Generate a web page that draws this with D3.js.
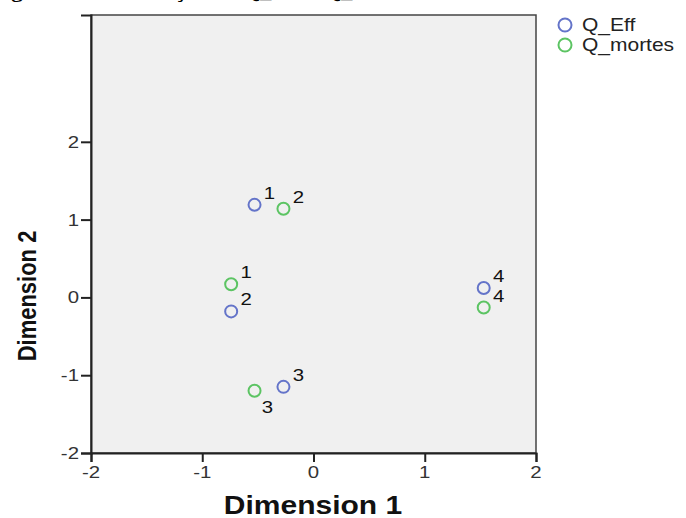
<!DOCTYPE html>
<html>
<head>
<meta charset="utf-8">
<script src="https://cdn.jsdelivr.net/npm/d3@7"></script>
<style>
  body { margin: 0; background: #fff; }
  svg { display: block; font-family: Arial, "Liberation Sans", sans-serif; }
</style>
</head>
<body>
<div id="chart"></div>
<script>
// category points
var cats = ["1", "2", "3", "4"]
var effX = [-0.53, -0.74, -0.27, 1.53]
var effY = [1.19, -0.18, -1.15, 0.12]
var mortesX = [-0.74, -0.27, -0.53, 1.53]
var mortesY = [0.17, 1.14, -1.20, -0.13]
// where the label sits beside each point
var effLab = ["ne", "ne", "ne", "ne"]
var mortesLab = ["ne", "ne", "se", "ne"]

var seriesNames = ["Q_Eff", "Q_mortes"]
var seriesCols = ["#6474c9", "#5cc463"]
var xTicks = [-2, -1, 0, 1, 2]
var yTicks = [-2, -1, 0, 1, 2]

var W = 686, H = 518
var sx = 1.2 // text in the picture is stretched sideways

var svg = d3.select('#chart').append('svg')
    .attr('width', W)
    .attr('height', H)

var x = d3.scaleLinear().domain([-2, 2]).range([91, 536])
var y = d3.scaleLinear().domain([-2, 3.63]).range([453, 15])

var fmt = function(d) { return d3.format('d')(d).replace('\u2212', '-') }

// stretched text helper
function stext(px, py, str, size, anchor, weight, rot, col, fam) {
  var g = svg.append('g')
    .attr('transform', 'translate(' + px + ',' + py + ') scale(' + sx + ',1)' + (rot ? ' rotate(' + rot + ')' : ''))
  g.append('text')
    .attr('text-anchor', anchor)
    .attr('font-size', size)
    .attr('font-weight', weight || 'normal')
    .attr('font-family', fam || null)
    .attr('fill', col || '#222')
    .text(str)
  return g
}

// caption cut off at the top (only the descenders show)
stext(-9, -2, 'Figura 1 - Localização de Q_Eff e Q_mortes', 19, 'start', 'bold', 0, '#000', '"Liberation Serif", serif')

// plot frame
svg.append('rect')
  .attr('x', x(-2))
  .attr('y', y(3.63))
  .attr('width', x(2) - x(-2))
  .attr('height', y(-2) - y(3.63))
  .attr('fill', '#f0f0f0')
  .attr('stroke', '#444')
  .attr('stroke-width', 1.5)

// axes
var xAxis = svg.append('g')
  .attr('transform', 'translate(0,' + y(-2) + ')')
  .call(d3.axisBottom(x).tickValues(xTicks).tickSize(9))
var yAxis = svg.append('g')
  .attr('transform', 'translate(' + x(-2) + ',0)')
  .call(d3.axisLeft(y).tickValues(yTicks).tickSize(10))

;[xAxis, yAxis].forEach(function(a) {
  a.select('.domain').attr('stroke', '#222').attr('stroke-width', 2)
  a.selectAll('.tick line').attr('stroke', '#222').attr('stroke-width', 2)
  a.selectAll('.tick text').remove()
})

// tick labels (stretched like the rest of the picture)
xTicks.forEach(function(t) {
  stext(x(t), 478, fmt(t), 17, 'middle', 'normal', 0, '#333')
})
yTicks.forEach(function(t) {
  stext(79, y(t) + 6, fmt(t), 17, 'end', 'normal', 0, '#333')
})

// axis titles
stext(313, 514, 'Dimension 1', 25, 'middle', 'bold', 0, '#111')
stext(36, 296, 'Dimension 2', 22, 'middle', 'bold', -90, '#111')

// points
function drawSeries(xs, ys, lab, col) {
  for (i in xs) {
    svg.append('circle')
      .attr('cx', x(xs[i]))
      .attr('cy', y(ys[i]))
      .attr('r', 6)
      .attr('fill', 'none')
      .attr('stroke', col)
      .attr('stroke-width', 2)
    var lx = x(xs[i]) + (lab[i] == 'se' ? 13 : 15)
    var ly = y(ys[i]) + (lab[i] == 'se' ? 16 : -12)
    stext(lx, ly + 6, cats[i], 17, 'middle', 'normal', 0, '#111')
  }
}
drawSeries(effX, effY, effLab, seriesCols[0])
drawSeries(mortesX, mortesY, mortesLab, seriesCols[1])

// legend
var ly = 25
for (i in seriesNames) {
  svg.append('circle')
    .attr('cx', 565)
    .attr('cy', ly)
    .attr('r', 6.5)
    .attr('fill', 'none')
    .attr('stroke', seriesCols[i])
    .attr('stroke-width', 2)
  stext(582, ly + 6, seriesNames[i], 17.5, 'start', 'normal', 0, '#222')
  ly = ly + 20
}
</script>
</body>
</html>
